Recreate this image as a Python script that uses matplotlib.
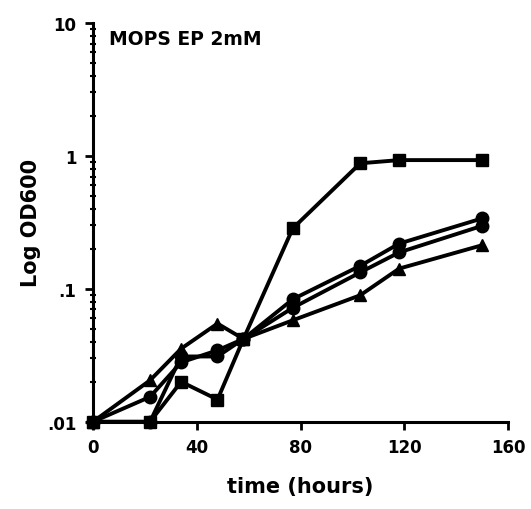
import numpy as np
import matplotlib
matplotlib.use('Agg')
import matplotlib.pyplot as plt
from matplotlib.ticker import FixedLocator, FixedFormatter, LogLocator, NullFormatter

plt.rcParams['font.family'] = ['DejaVu Sans']
plt.rcParams['font.weight'] = 'bold'

hours = [0, 22, 34, 48, 58, 77, 103, 118, 150]
od_square = [0.01, 0.01, 0.02, 0.0147, 0.042, 0.285, 0.88, 0.93, 0.93]
od_triangle = [0.01, 0.0205, 0.0355, 0.0548, 0.042, 0.058, 0.0895, 0.142, 0.213]
od_circle1 = [0.01, 0.0154, 0.028, 0.0345, 0.042, 0.072, 0.133, 0.188, 0.298]
od_circle2 = [0.01, 0.01, 0.031, 0.031, 0.042, 0.0835, 0.149, 0.219, 0.339]

fig = plt.figure(figsize=(5.31, 5.10), dpi=100)
ax = fig.add_axes([0.175, 0.171, 0.782, 0.782])

lw = 2.8
ms = 9
ax.plot(hours, od_circle2, color='black', lw=lw, marker='o', markersize=ms, clip_on=False)
ax.plot(hours, od_circle1, color='black', lw=lw, marker='o', markersize=ms, clip_on=False)
ax.plot(hours, od_triangle, color='black', lw=lw, marker='^', markersize=ms, clip_on=False)
ax.plot(hours, od_square, color='black', lw=lw, marker='s', markersize=ms, clip_on=False)

ax.set_yscale('log')
ax.set_xlim(0, 160)
ax.set_ylim(0.01, 10)

ax.xaxis.set_major_locator(FixedLocator([0, 40, 80, 120, 160]))
ax.yaxis.set_major_locator(FixedLocator([0.01, 0.1, 1, 10]))
ax.yaxis.set_major_formatter(FixedFormatter(['.01', '.1', '1', '10']))
ax.yaxis.set_minor_locator(LogLocator(base=10, subs=np.arange(2, 10)))
ax.yaxis.set_minor_formatter(NullFormatter())

for side in ['top', 'right']:
    ax.spines[side].set_visible(False)
for side in ['left', 'bottom']:
    ax.spines[side].set_linewidth(2.2)

ax.tick_params(axis='x', direction='out', length=6, width=2, labelsize=12, pad=6)
ax.tick_params(axis='y', which='major', direction='out', length=6, width=2, labelsize=12, pad=6)
ax.tick_params(axis='y', which='minor', direction='inout', length=4, width=1.5)

ax.set_xlabel('time (hours)', fontsize=15, fontweight='bold', labelpad=14)
ax.set_ylabel('Log OD600', fontsize=15, fontweight='bold', labelpad=4)
ax.text(0.038, 0.985, 'MOPS EP 2mM', transform=ax.transAxes, fontsize=13.5,
        fontweight='bold', va='top', ha='left')

fig.savefig('out.png', dpi=100)
